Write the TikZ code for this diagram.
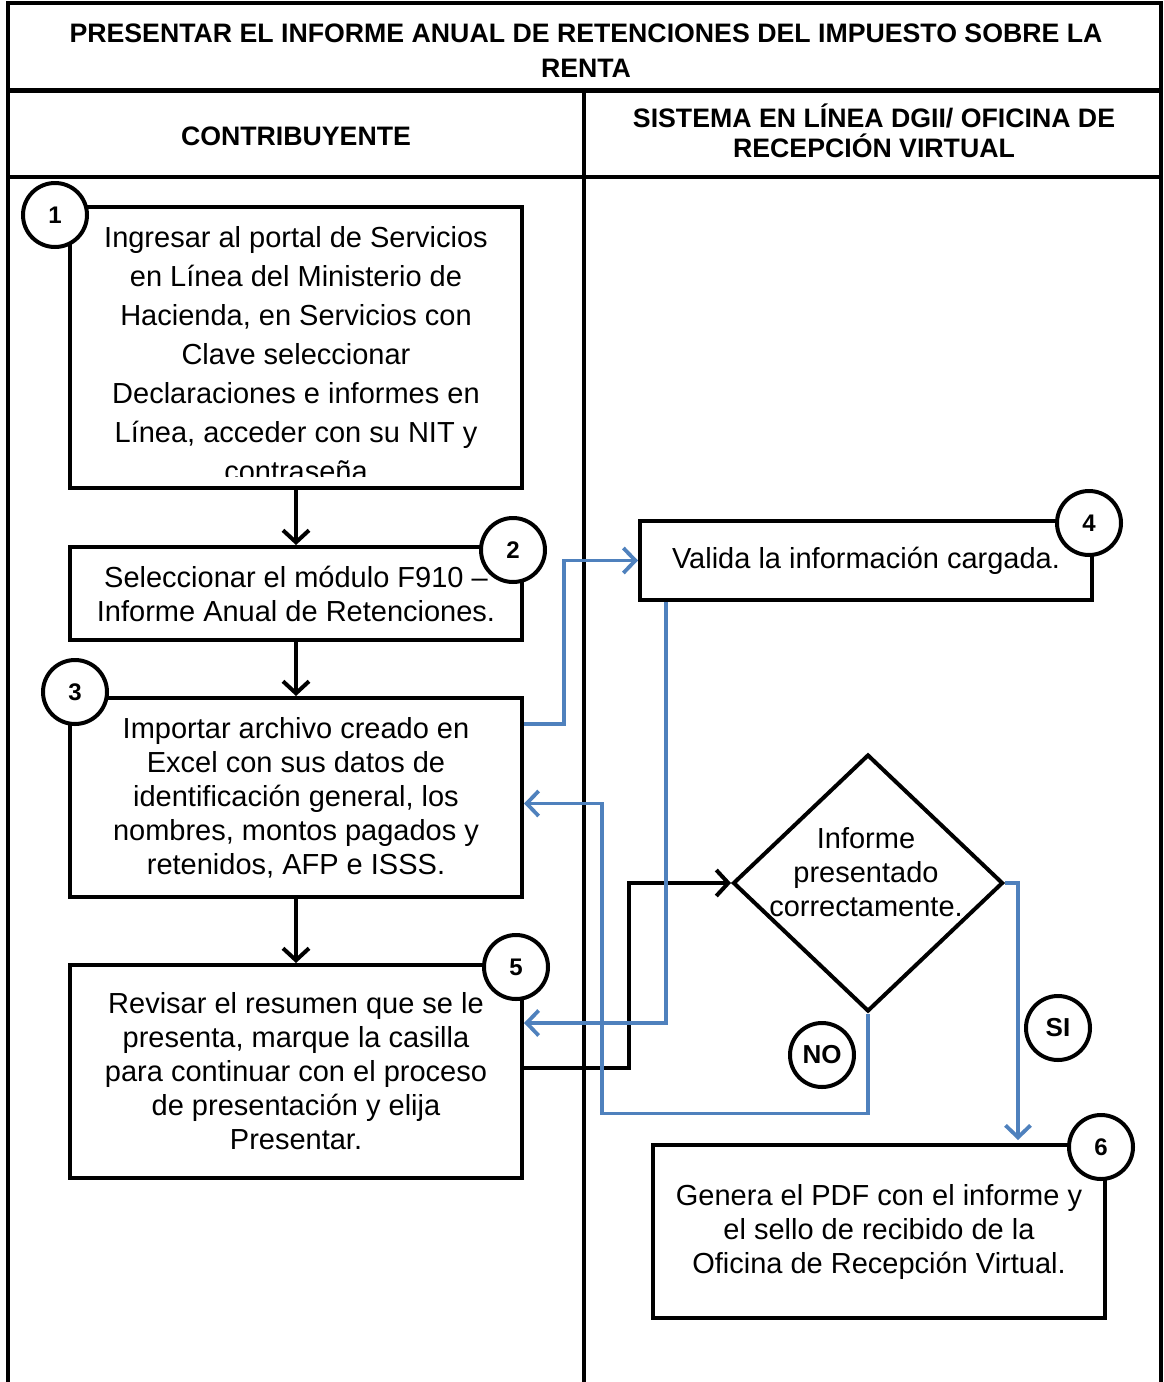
\documentclass[tikz,border=0pt]{standalone}
\usepackage{fontspec}
\setmainfont{Liberation Sans}
\usetikzlibrary{arrows.meta, shapes.geometric}
\definecolor{flowblue}{RGB}{79,129,189}

\begin{document}
\begin{tikzpicture}[x=1pt, y=-1pt,
    lane/.style={line width=4pt},
    box/.style={draw, line width=4pt, inner sep=0pt, minimum width=452pt, align=center, font=\fontsize{29}{34}\selectfont},
    num/.style={draw, circle, line width=4pt, fill=white, minimum size=64pt, inner sep=0pt, font=\bfseries\fontsize{24}{24}\selectfont},
    head/.style={align=center, font=\bfseries\fontsize{26.7}{30}\selectfont},
    flow/.style={line width=4pt, -{Straight Barb[length=12pt,width=26pt]}},
    flowb/.style={line width=3.8pt, draw=flowblue, -{Straight Barb[length=12pt,width=25pt]}}]
  \useasboundingbox (0,0) rectangle (1164,1382);

  % lanes
  \draw[lane] (8,1382) -- (8,3) -- (1161,3) -- (1161,1382);
  \draw[line width=5pt] (8,90) -- (1161,90);
  \draw[lane] (8,177) -- (1161,177);
  \draw[lane] (584,90) -- (584,1382);
  \node[head, font=\bfseries\fontsize{26.7}{35}\selectfont] (titulo) at (586,51) {PRESENTAR EL INFORME ANUAL DE RETENCIONES DEL IMPUESTO SOBRE LA\\RENTA};
  \node[head] (contrib) at (296,136) {CONTRIBUYENTE};
  \node[head] (sistema) at (874,131) {SISTEMA EN LÍNEA DGII/ OFICINA DE\\RECEPCIÓN VIRTUAL};

  % steps
  \node[box, minimum height=281pt] (ingresar) at (296,347.5) {};
  \begin{scope}
    \clip (ingresar.north west) rectangle ([yshift=14pt]ingresar.south east);
    \node[align=center, font=\fontsize{29}{39}\selectfont] (ingresartxt) at (296,354) {Ingresar al portal de Servicios\\en Línea del Ministerio de\\Hacienda, en Servicios con\\Clave seleccionar\\Declaraciones e informes en\\Línea, acceder con su NIT y\\contraseña};
  \end{scope}
  \node[box, minimum height=93pt] (modulo) at (296,593.5) {Seleccionar el módulo F910 –\\Informe Anual de Retenciones.};
  \node[box, minimum height=199pt] (importar) at (296,797.5) {Importar archivo creado en\\Excel con sus datos de\\identificación general, los\\nombres, montos pagados y\\retenidos, AFP e ISSS.};
  \node[box, minimum height=213pt] (revisar) at (296,1071.5) {Revisar el resumen que se le\\presenta, marque la casilla\\para continuar con el proceso\\de presentación y elija\\Presentar.};
  \node[box, minimum height=79pt] (valida) at (866,560.5) {Valida la información cargada.};
  \node[draw, diamond, line width=4pt, minimum width=270pt, minimum height=257pt, inner sep=0pt] (decision) at (868,883) {};
  \node[align=center, font=\fontsize{29}{34}\selectfont] (decisiontxt) at (866,872) {Informe\\presentado\\correctamente.};
  \node[box, minimum height=173pt] (genera) at (879,1231.5) {Genera el PDF con el informe y\\el sello de recibido de la\\Oficina de Recepción Virtual.};

  % connectors
  \draw[flow] (ingresar.south) -- (modulo.north);
  \draw[flow] (modulo.south) -- (importar.north);
  \draw[flow] (importar.south) -- (revisar.north);
  \draw[flow] ([yshift=-105pt]revisar.north east) -- ++(105,0) |- (decision.west);
  \draw[flowb] ([yshift=-28pt]importar.north east) -- ++(40,0) |- (valida.west);
  \draw[flowb] ([xshift=28pt]valida.south west) |- ([yshift=-60pt]revisar.north east);
  \draw[flowb] (decision.south) -- ++(0,100) -- ++(-266,0) |- ([yshift=-6pt]importar.east);
  \draw[flowb] (decision.east) -| ([xshift=-89pt,yshift=3pt]genera.north east);

  % numbers
  \node[num] (n1) at (55,215) {1};
  \node[num] (n2) at (513,550) {2};
  \node[num] (n3) at (75,692) {3};
  \node[num] (n4) at (1089,523) {4};
  \node[num] (n5) at (516,967) {5};
  \node[num] (n6) at (1101,1147) {6};
  \node[num, font=\bfseries\fontsize{26}{26}\selectfont] (no) at (822,1055) {NO};
  \node[num, font=\bfseries\fontsize{26}{26}\selectfont] (si) at (1058,1028) {SI};
\end{tikzpicture}
\end{document}
